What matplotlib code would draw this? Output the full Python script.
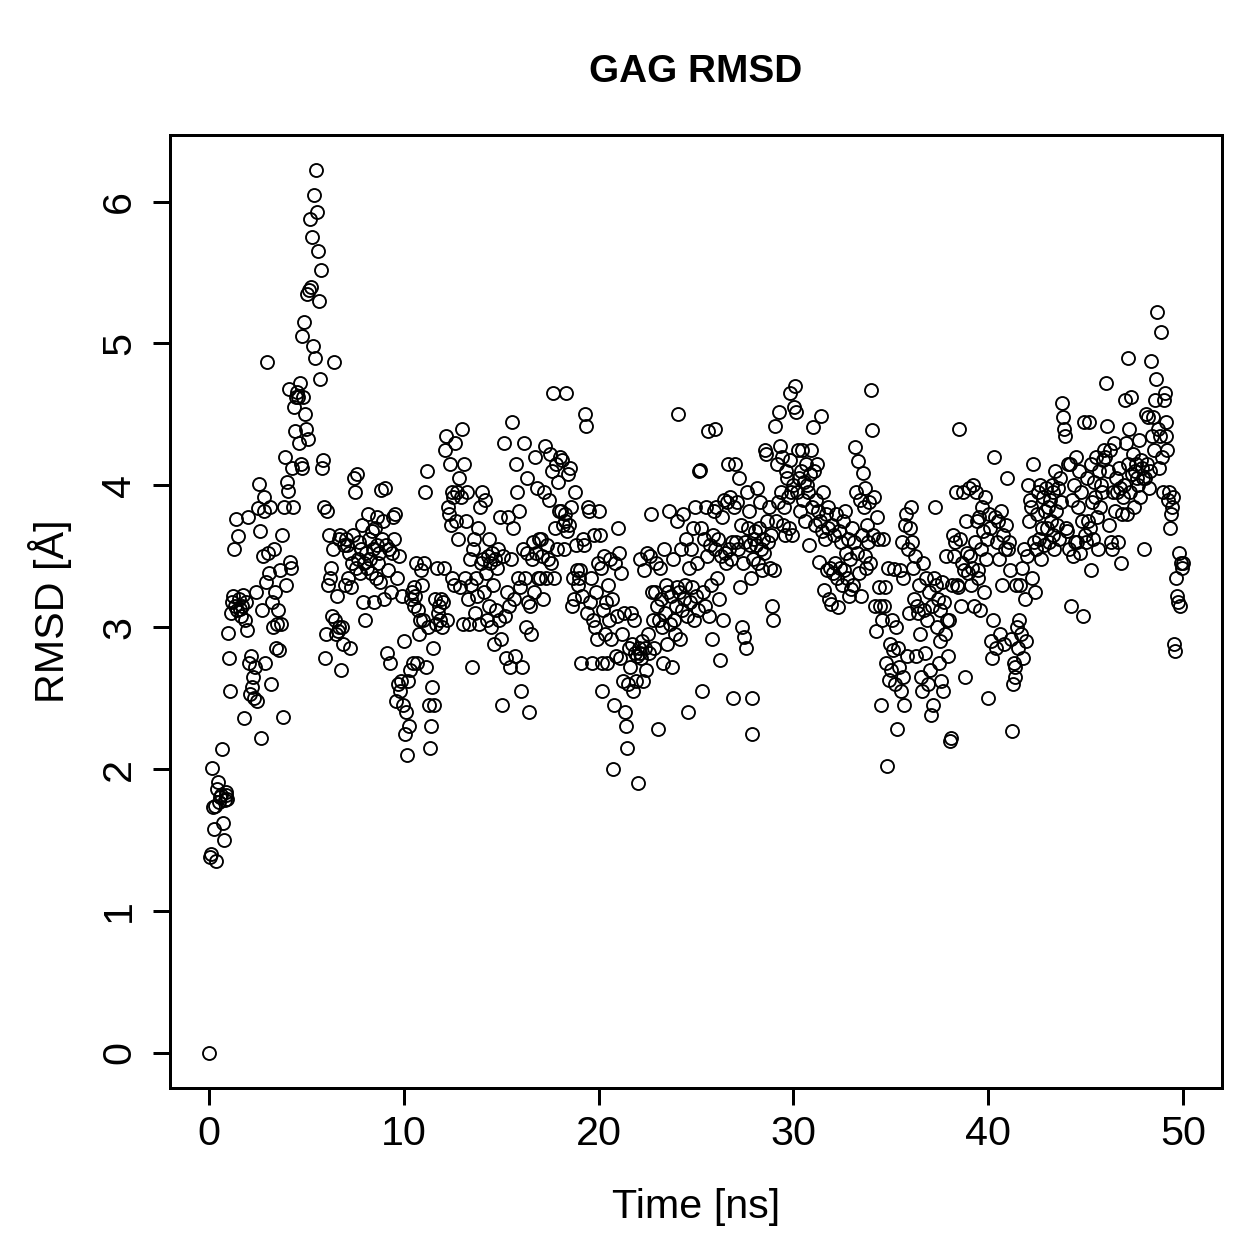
import numpy as np
import matplotlib
matplotlib.use('Agg')
import matplotlib.pyplot as plt

plt.rcParams['font.family'] = ['Liberation Sans', 'DejaVu Sans']

# RMSD values, one row per ns (0.05 ns sampling)
rmsd_rows = [
    [0.00, 1.38, 1.40, 2.01, 1.73, 1.58, 1.74, 1.35, 1.86, 1.91, 1.77, 1.80, 1.82, 2.14, 1.62, 1.50, 1.78, 1.84, 1.82, 1.79],
    [2.96, 2.78, 2.55, 3.10, 3.18, 3.22, 3.55, 3.15, 3.76, 3.12, 3.64, 3.20, 3.13, 3.08, 3.15, 3.23, 2.36, 3.05, 3.18, 2.98],
    [3.78, 2.75, 2.53, 2.80, 2.58, 2.65, 2.50, 2.72, 3.25, 2.48, 3.84, 4.01, 3.68, 2.22, 3.12, 3.50, 3.92, 3.82, 2.75, 3.32],
    [4.87, 3.52, 3.38, 3.85, 2.60, 3.18, 3.00, 3.55, 3.25, 2.85, 3.02, 3.12, 2.84, 3.40, 3.02, 3.65, 2.37, 3.85, 4.20, 3.30],
    [4.02, 3.96, 4.68, 3.46, 3.42, 4.12, 3.85, 4.55, 4.38, 4.62, 4.66, 4.62, 4.30, 4.72, 4.15, 4.12, 5.05, 4.62, 5.15, 4.50],
    [4.40, 5.35, 4.33, 5.38, 5.88, 5.40, 5.75, 4.98, 6.05, 4.90, 6.22, 5.93, 5.65, 5.30, 4.75, 5.52, 4.12, 4.18, 3.85, 2.78],
    [2.95, 3.82, 3.30, 3.65, 3.35, 3.42, 3.08, 3.55, 4.87, 3.05, 2.95, 3.22, 2.97, 3.62, 3.00, 3.65, 2.70, 3.00, 2.88, 3.58],
    [3.30, 3.62, 3.58, 3.35, 3.52, 2.85, 3.28, 3.45, 3.65, 4.05, 3.95, 3.42, 4.08, 3.48, 3.60, 3.38, 3.55, 3.72, 3.18, 3.45],
    [3.05, 3.52, 3.42, 3.80, 3.62, 3.48, 3.38, 3.68, 3.55, 3.18, 3.70, 3.35, 3.58, 3.78, 3.45, 3.52, 3.32, 3.97, 3.62, 3.75],
    [3.20, 3.98, 3.58, 2.82, 3.40, 3.55, 2.75, 3.25, 3.52, 3.78, 3.62, 3.80, 2.48, 3.35, 2.60, 3.50, 2.55, 2.62, 3.22, 2.45],
    [2.90, 2.25, 2.40, 2.10, 2.62, 2.30, 2.70, 3.20, 3.25, 2.75, 3.15, 3.28, 3.22, 3.45, 2.75, 3.12, 2.95, 3.05, 3.40, 3.30],
    [3.05, 3.45, 3.95, 2.72, 4.10, 3.00, 2.45, 2.15, 2.30, 2.58, 2.85, 2.45, 3.20, 3.02, 3.42, 3.10, 3.15, 3.05, 3.20, 3.00],
    [3.18, 3.42, 4.25, 4.35, 3.05, 3.85, 3.80, 4.15, 3.72, 3.95, 3.35, 3.92, 3.30, 4.30, 3.75, 3.95, 3.62, 4.05, 3.28, 3.92],
    [4.40, 3.02, 4.15, 3.35, 3.75, 3.95, 3.20, 3.02, 3.48, 3.30, 2.72, 3.55, 3.62, 3.10, 3.35, 3.22, 3.70, 3.02, 3.85, 3.45],
    [3.95, 3.48, 3.25, 3.90, 3.38, 3.05, 3.50, 3.62, 3.15, 3.45, 3.00, 3.52, 3.30, 2.88, 3.48, 3.12, 3.42, 3.55, 3.05, 3.78],
    [2.92, 2.45, 3.50, 4.30, 3.08, 2.78, 3.25, 3.78, 3.15, 2.72, 3.48, 4.45, 3.70, 3.20, 2.80, 4.15, 3.95, 3.35, 3.82, 3.28],
    [2.55, 2.72, 3.55, 4.30, 3.35, 3.00, 3.52, 4.05, 3.18, 2.40, 3.15, 2.95, 3.48, 3.60, 3.25, 4.20, 3.52, 3.98, 3.35, 3.62],
    [3.35, 3.62, 3.50, 3.20, 3.95, 4.28, 3.35, 3.58, 3.48, 3.90, 4.22, 3.45, 4.10, 4.65, 3.35, 3.70, 4.15, 3.55, 4.02, 3.82],
    [4.20, 3.82, 4.18, 3.72, 3.55, 3.80, 3.75, 4.65, 3.68, 4.08, 3.72, 4.12, 3.85, 3.15, 3.35, 3.20, 3.95, 3.58, 3.40, 3.30],
    [3.35, 3.40, 2.75, 3.22, 3.62, 3.58, 4.50, 4.42, 3.10, 3.85, 3.82, 3.18, 3.35, 2.75, 3.05, 3.65, 3.00, 3.25, 2.92, 3.45],
    [3.82, 3.65, 3.42, 2.55, 2.75, 3.12, 3.50, 2.95, 3.18, 2.75, 3.30, 3.05, 3.48, 2.92, 3.20, 2.00, 2.45, 3.45, 2.80, 3.08],
    [3.70, 3.52, 2.78, 3.38, 2.95, 2.62, 3.10, 2.40, 2.30, 2.15, 2.60, 2.85, 2.72, 3.10, 2.88, 2.55, 3.05, 2.82, 2.62, 2.80],
    [1.90, 2.85, 2.82, 3.48, 2.78, 2.90, 2.62, 3.40, 2.85, 2.70, 3.52, 2.95, 2.82, 3.50, 3.80, 3.25, 3.05, 2.85, 3.25, 3.45],
    [3.15, 2.28, 3.05, 3.42, 3.20, 3.00, 2.75, 3.55, 3.10, 3.30, 2.88, 3.25, 3.82, 3.02, 3.22, 2.72, 3.48, 3.05, 2.95, 3.15],
    [3.28, 3.75, 4.50, 3.25, 2.92, 3.55, 3.12, 3.80, 3.20, 3.30, 3.62, 3.08, 2.40, 3.42, 3.18, 3.55, 3.28, 3.70, 3.05, 3.85],
    [3.22, 3.45, 3.12, 4.10, 4.11, 3.70, 2.55, 3.25, 3.62, 3.15, 3.85, 3.50, 4.38, 3.08, 3.58, 3.30, 2.92, 3.65, 3.82, 4.40],
    [3.55, 3.85, 3.35, 3.62, 3.20, 2.77, 3.50, 3.78, 3.05, 3.90, 3.52, 3.45, 3.88, 4.15, 3.55, 3.92, 3.48, 3.60, 2.50, 3.85],
    [4.15, 3.60, 3.88, 3.55, 4.05, 3.28, 3.72, 3.00, 3.45, 2.93, 3.60, 2.85, 3.95, 3.70, 3.82, 3.58, 3.35, 2.25, 2.50, 3.48],
    [3.62, 3.68, 3.58, 3.98, 3.45, 3.70, 3.88, 3.55, 3.40, 3.62, 3.52, 4.25, 4.22, 3.75, 3.60, 3.85, 3.42, 3.65, 3.15, 3.05],
    [3.40, 4.42, 3.75, 4.15, 3.88, 4.52, 4.28, 3.95, 4.20, 3.72, 3.85, 3.65, 4.10, 4.05, 3.92, 3.70, 4.65, 4.18, 3.95, 3.65],
    [4.00, 4.55, 4.70, 4.52, 3.95, 4.25, 4.05, 3.82, 4.10, 4.25, 3.90, 4.02, 3.75, 4.15, 4.00, 3.95, 3.58, 4.08, 4.25, 3.85],
    [4.41, 4.10, 3.72, 3.90, 4.15, 3.82, 3.46, 3.75, 4.49, 3.68, 3.95, 3.26, 3.62, 3.80, 3.40, 3.70, 3.85, 3.20, 3.42, 3.16],
    [3.72, 3.38, 3.65, 3.45, 3.80, 3.35, 3.14, 3.68, 3.42, 3.60, 3.30, 3.75, 3.40, 3.82, 3.52, 3.35, 3.62, 3.22, 3.48, 3.27],
    [3.70, 3.30, 3.60, 4.27, 3.95, 3.52, 4.17, 3.38, 3.90, 3.22, 3.65, 4.09, 3.85, 3.50, 3.98, 3.42, 3.72, 3.60, 3.88, 3.45],
    [4.67, 4.39, 3.65, 3.92, 3.15, 2.97, 3.78, 3.62, 3.28, 3.15, 2.45, 3.05, 3.62, 3.15, 3.28, 2.75, 2.02, 3.42, 2.63, 2.88],
    [2.70, 3.05, 2.84, 3.41, 2.60, 3.00, 2.28, 2.85, 2.72, 3.40, 2.55, 3.60, 2.65, 3.35, 2.45, 3.72, 3.80, 2.80, 3.55, 3.10],
    [3.70, 3.85, 3.60, 3.42, 3.20, 3.50, 2.80, 3.15, 3.10, 3.30, 2.95, 2.65, 2.55, 3.45, 3.12, 2.82, 3.35, 3.05, 2.60, 3.25],
    [2.70, 2.38, 3.15, 2.45, 3.35, 3.85, 3.30, 3.00, 3.20, 2.75, 2.90, 3.12, 2.62, 3.32, 2.55, 3.18, 2.95, 3.50, 3.05, 2.80],
    [3.05, 2.20, 2.22, 3.30, 3.65, 3.50, 3.60, 3.95, 3.30, 3.28, 4.40, 3.62, 3.15, 3.45, 3.95, 3.40, 2.65, 3.75, 3.52, 3.38],
    [3.98, 3.50, 3.30, 3.42, 4.00, 3.15, 3.60, 3.95, 3.75, 3.40, 3.35, 3.78, 3.12, 3.55, 3.85, 3.68, 3.25, 3.92, 3.48, 3.62],
    [2.50, 3.80, 3.70, 2.90, 2.78, 3.05, 4.20, 3.78, 2.85, 3.60, 3.75, 3.48, 2.95, 3.82, 3.30, 3.65, 2.88, 3.55, 3.72, 4.05],
    [3.55, 3.60, 3.40, 2.92, 2.27, 2.60, 2.75, 2.72, 2.65, 3.30, 3.00, 2.85, 3.05, 3.30, 2.95, 3.42, 2.78, 3.55, 3.20, 2.90],
    [3.50, 4.00, 3.75, 3.90, 3.85, 3.35, 4.15, 3.60, 3.25, 3.55, 3.80, 3.95, 3.62, 4.00, 3.48, 3.70, 3.92, 3.58, 3.82, 3.98],
    [3.70, 3.85, 3.60, 3.90, 3.75, 4.00, 3.65, 3.95, 3.55, 4.10, 3.82, 3.72, 3.98, 3.62, 4.05, 3.88, 4.58, 4.48, 4.40, 4.35],
    [3.70, 3.68, 4.15, 3.55, 4.15, 3.15, 3.90, 3.50, 4.00, 3.60, 4.20, 3.60, 3.85, 4.10, 3.52, 3.95, 3.75, 3.08, 4.45, 3.65],
    [3.60, 4.05, 3.75, 4.45, 3.70, 4.15, 3.40, 3.88, 3.62, 4.02, 3.92, 4.20, 3.78, 3.55, 4.10, 3.85, 4.00, 3.95, 4.18, 4.25],
    [4.20, 4.72, 4.42, 4.10, 3.72, 4.25, 3.60, 3.55, 3.95, 4.30, 3.82, 4.05, 3.95, 3.60, 4.12, 3.98, 3.45, 3.80, 3.92, 4.00],
    [4.60, 4.30, 3.80, 4.90, 4.15, 4.40, 3.95, 4.62, 4.08, 4.22, 3.85, 4.10, 4.15, 4.05, 4.00, 4.32, 3.92, 4.18, 4.12, 4.05],
    [3.55, 4.05, 4.50, 4.15, 4.48, 3.98, 4.10, 4.88, 4.35, 4.48, 4.25, 4.60, 4.75, 5.22, 4.40, 4.12, 4.35, 5.08, 4.20, 3.95],
    [4.60, 4.65, 4.45, 4.35, 4.25, 3.90, 3.95, 3.70, 3.80, 3.85, 3.92, 2.88, 2.83, 3.35, 3.22, 3.18, 3.52, 3.15, 3.45, 3.42],
    [3.45],
]
rmsd = np.concatenate([np.array(r) for r in rmsd_rows])
time_ns = np.arange(len(rmsd)) * 0.05

fig = plt.figure(figsize=(1259 / 180, 1259 / 180), dpi=180)
fig.subplots_adjust(left=170 / 1259, right=1222 / 1259, top=1 - 135 / 1259, bottom=1 - 1088 / 1259)
ax = fig.add_subplot(111)

ax.plot(time_ns, rmsd, linestyle='none', marker='o', markersize=5.2,
        markerfacecolor='none', markeredgecolor='black', markeredgewidth=0.75)

ax.set_xlim(-2, 52)
ax.set_ylim(-0.249, 6.47)
ax.set_xticks([0, 10, 20, 30, 40, 50])
ax.set_yticks([0, 1, 2, 3, 4, 5, 6])
for s in ax.spines.values():
    s.set_linewidth(1.2)
ax.tick_params(direction='out', length=6.8, width=1.2, labelsize=16.5)
ax.tick_params(axis='x', pad=4)
ax.tick_params(axis='y', pad=6)
plt.setp(ax.get_yticklabels(), rotation=90, va='center')

ax.set_xlabel('Time [ns]', fontsize=16.5, labelpad=14)
ax.set_ylabel('RMSD [Å]', fontsize=16.5, labelpad=11)
ax.set_title('GAG RMSD', fontsize=15.5, fontweight='bold', pad=21)

fig.savefig('out.png', dpi=180)
